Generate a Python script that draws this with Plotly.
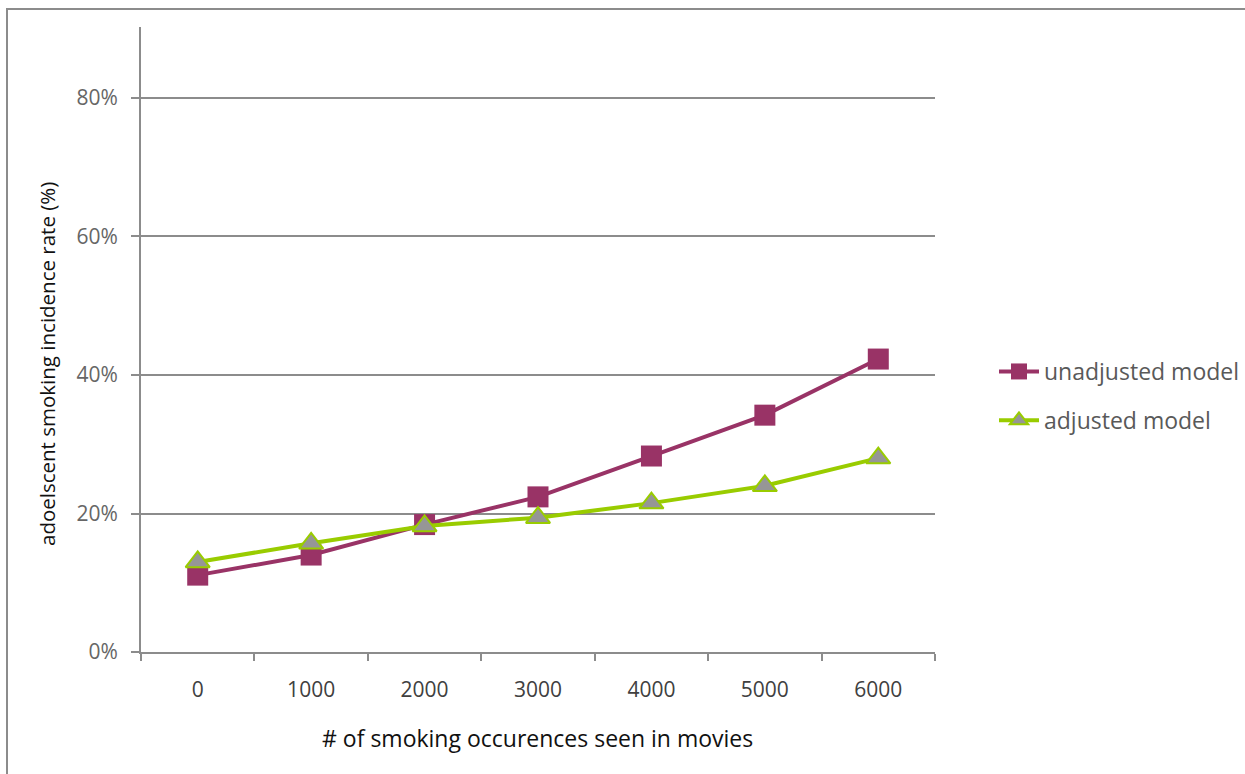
import plotly.graph_objects as go

categories = ["0", "1000", "2000", "3000", "4000", "5000", "6000"]
unadjusted = [0.111, 0.140, 0.184, 0.224, 0.283, 0.342, 0.423]
adjusted = [0.130, 0.157, 0.182, 0.194, 0.215, 0.240, 0.280]
y_ticks = [0, 0.2, 0.4, 0.6, 0.8]
y_tick_labels = ["0%", "20%", "40%", "60%", "80%"]

W, H = 1245, 774
L, R, T, B = 141, 935, 27, 652
pw, ph = R - L, B - T

def px(x):
    return (x - L) / pw

def py(y):
    return (B - y) / ph

FONT = "Open Sans"

fig = go.Figure()
fig.add_trace(go.Scatter(
    x=categories, y=unadjusted, name="unadjusted model", mode="lines+markers",
    line=dict(color="#993366", width=4),
    marker=dict(symbol="square", size=21, color="#993366", line=dict(width=0)),
    legendgroup="a",
))
fig.add_trace(go.Scatter(
    x=categories, y=adjusted, name="adjusted model", mode="lines+markers",
    line=dict(color="#99CC00", width=4),
    marker=dict(symbol="triangle-up", size=21, color="#969696", line=dict(color="#99CC00", width=2)),
    legendgroup="b",
))

fig.update_layout(
    width=W, height=H,
    margin=dict(l=L, r=W - R, t=T, b=H - B, autoexpand=False),
    paper_bgcolor="white", plot_bgcolor="white",
    font=dict(family=FONT, color="#595959"),
    showlegend=True,
    legend=dict(
        x=px(994), y=py(350), xanchor="left", yanchor="top",
        font=dict(size=23, color="#595959", family=FONT),
        tracegroupgap=16, traceorder="grouped",
        bgcolor="rgba(0,0,0,0)",
        itemwidth=40,
    ),
    xaxis=dict(
        type="category", range=[-0.5, 6.5],
        showgrid=False, showline=True, linecolor="#8c8c8c", linewidth=2,
        ticks="outside", ticklen=7, tickcolor="#8c8c8c", tickwidth=2,
        tickson="boundaries",
        tickfont=dict(size=21, color="#404040", family=FONT),
        ticklabelstandoff=18,
        zeroline=False,
    ),
    yaxis=dict(
        range=[0, 0.9025],
        tickvals=y_ticks, ticktext=y_tick_labels,
        showgrid=True, gridcolor="#8c8c8c", gridwidth=1.5,
        showline=True, linecolor="#8c8c8c", linewidth=2,
        ticks="outside", ticklen=8, tickcolor="#8c8c8c", tickwidth=2,
        tickfont=dict(size=21, color="#666666", family=FONT),
        ticklabelstandoff=9,
        zeroline=False,
    ),
)

fig.add_annotation(
    text="adoelscent smoking incidence rate (%)", textangle=-90,
    xref="paper", yref="paper", x=px(47), y=py(364),
    xanchor="center", yanchor="middle",
    showarrow=False, font=dict(size=20.5, color="#111111", family=FONT),
)
fig.add_annotation(
    text="# of smoking occurences seen in movies",
    xref="paper", yref="paper", x=px(537), y=py(738),
    xanchor="center", yanchor="middle",
    showarrow=False, font=dict(size=23, color="#111111", family=FONT),
)
fig.add_shape(
    type="rect", xref="paper", yref="paper",
    x0=px(7), y0=py(790), x1=px(1260), y1=py(9),
    line=dict(color="#8c8c8c", width=2), layer="below",
)

fig.write_html("out.html")
